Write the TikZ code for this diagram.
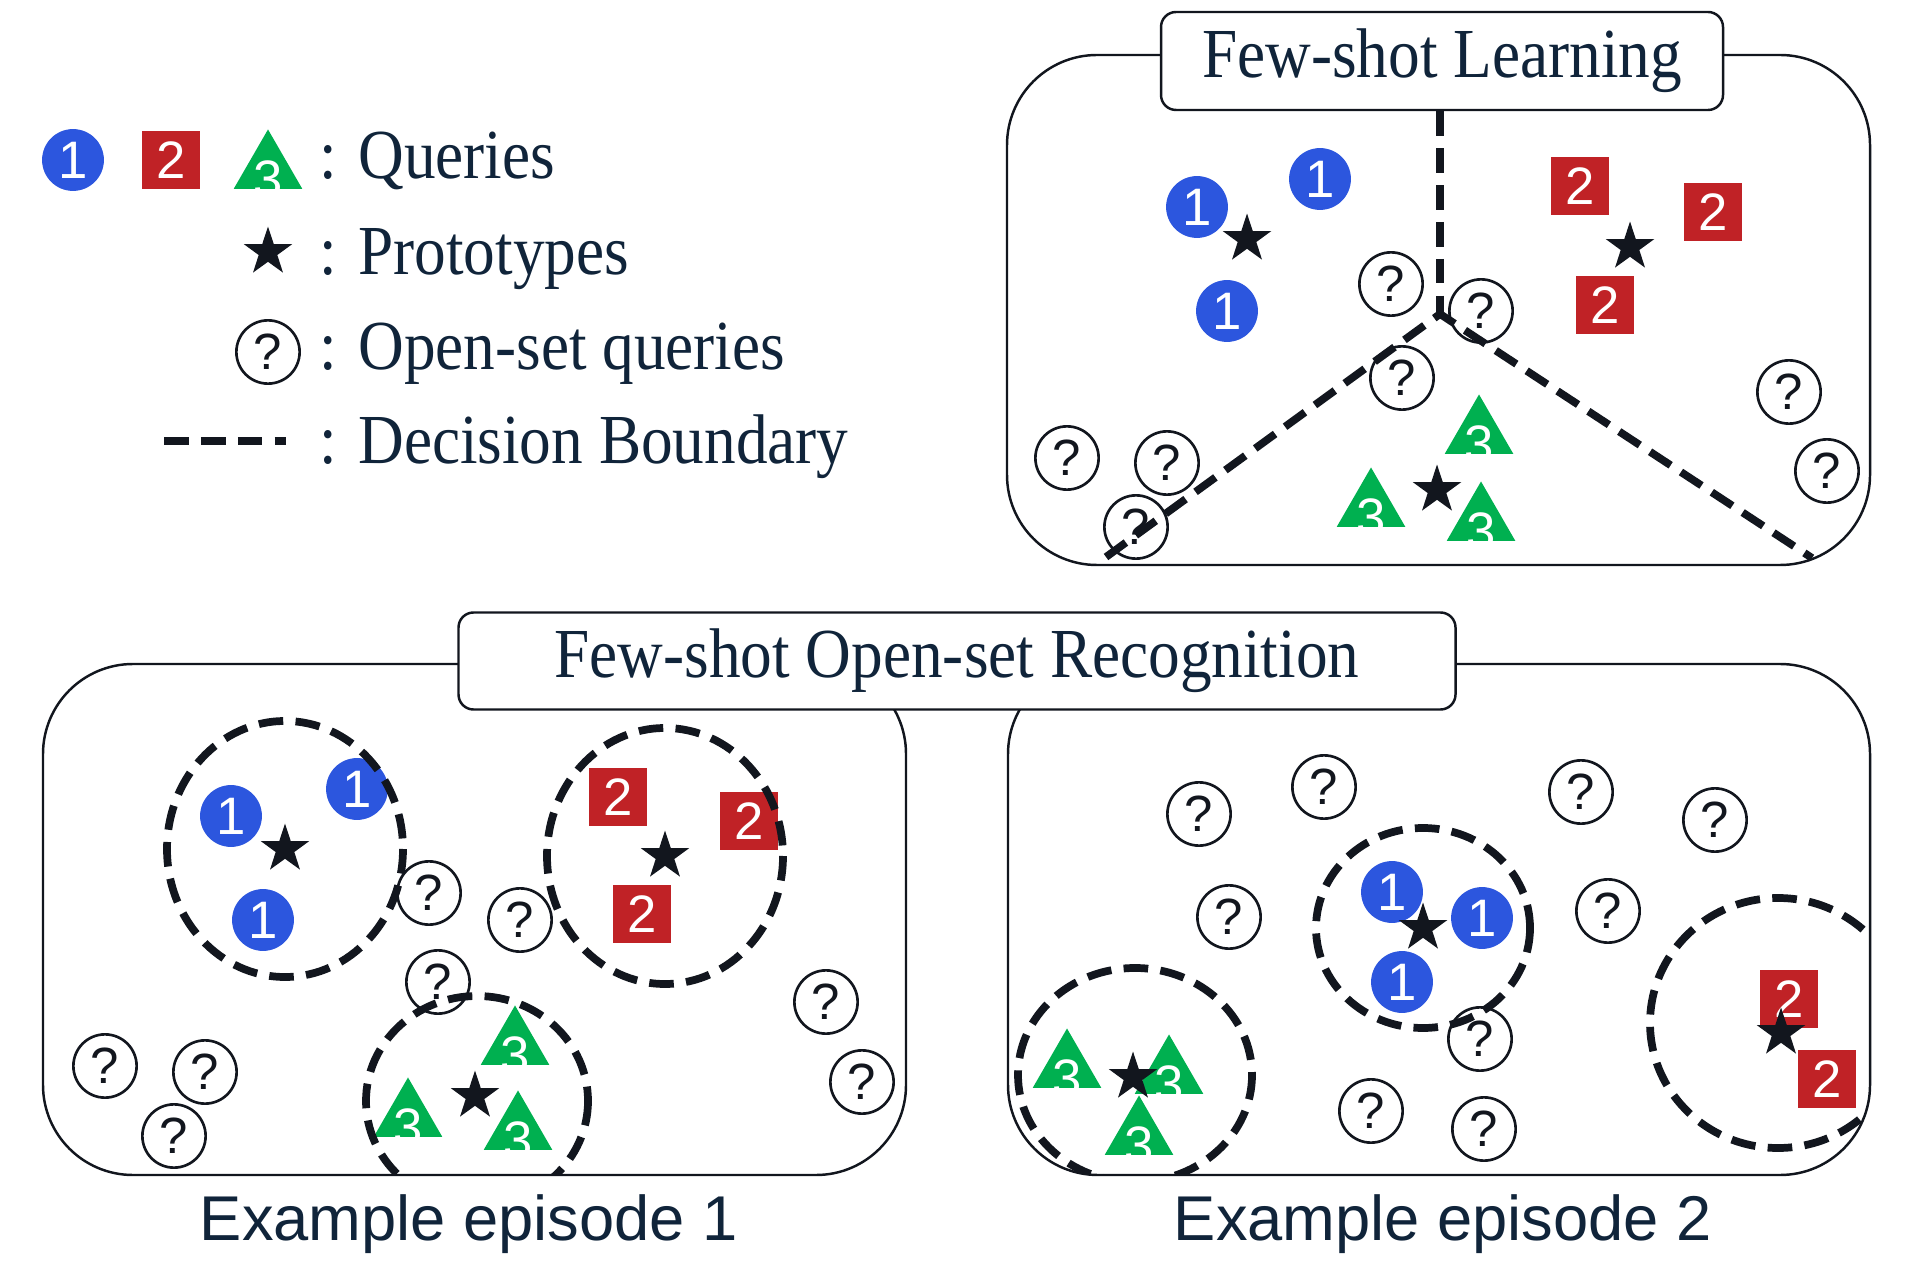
\documentclass[tikz,border=0pt]{standalone}
\usepackage{fontspec}
\setmainfont{Liberation Serif}[FakeStretch=0.9]
\setsansfont{Liberation Sans}
\usetikzlibrary{shapes.geometric,positioning}
\definecolor{qblue}{HTML}{2C56DE}
\definecolor{qred}{HTML}{C02226}
\definecolor{qgreen}{HTML}{00B050}
\definecolor{ink}{HTML}{10243A}
\definecolor{protoc}{HTML}{12161E}

\begin{document}
\begin{tikzpicture}[x=0.1mm,y=-0.1mm,
  digit/.style={font=\sffamily\fontsize{15}{15}\selectfont,text=white},
  cls1/.style={circle,fill=qblue,minimum size=17.6pt,inner sep=0pt,digit},
  cls2/.style={rectangle,fill=qred,minimum size=16.5pt,inner sep=0pt,digit},
  cls3/.style={regular polygon,regular polygon sides=3,fill=qgreen,minimum size=22.5pt,inner sep=0pt},
  unk/.style={circle,draw=protoc,line width=0.75pt,minimum size=18pt,inner sep=0pt,
    font=\sffamily\fontsize{14.5}{15}\selectfont,text=protoc},
  proto/.style={star,star points=5,star point ratio=2.6,fill=protoc,minimum size=14.5pt,inner sep=0pt},
  bound/.style={line width=2.2pt,dash pattern=on 7pt off 3.5pt,draw=protoc},
  panel/.style={draw=protoc,line width=0.7pt,rounded corners=9mm},
  title/.style={draw=protoc,line width=0.7pt,fill=white,rounded corners=1.5mm,
    font=\fontsize{20}{24}\selectfont,text=ink,inner sep=0pt},
  legtext/.style={anchor=base west,font=\fontsize{20}{24}\selectfont,text=ink,inner sep=0pt},
  episode/.style={font=\sffamily\fontsize{18}{22}\selectfont,text=ink}]
  \useasboundingbox (0,0) rectangle (1910,1270);

  % legend
  \node[cls1] (lg1) at (73,160) {1};
  \node[cls2] (lg2) at (171,160) {2};
  \node[cls3,label={[digit,yshift=-3pt]center:3}] (lg3) at (268,169) {};
  \node[proto] (lgp) at (268,252) {};
  \node[unk] (lgu) at (268,352) {?};
  \coordinate (lgd0) at (164,441);
  \coordinate (lgd1) at (286,441);
  \draw[bound] (lgd0) -- (lgd1);
  \node[legtext] (ltq) at (319,179) {: Queries};
  \node[legtext] (ltp) at (319,275) {: Prototypes};
  \node[legtext] (ltu) at (319,370) {: Open-set queries};
  \node[legtext] (ltd) at (319,464) {: Decision Boundary};

  % few-shot learning panel
  \draw[panel] (1007,55) rectangle (1870,565);
  \node[title,minimum width=56.2mm,minimum height=9.8mm] (fslT) at (1442,61) {Few-shot Learning};
  \foreach \pos [count=\k] in {(1391,284),(1481,311),(1402,378),(1067,458),(1167,463),(1136,527),(1789,392),(1827,471)}
    \node[unk] (tu\k) at \pos {?};
  \node[cls1] (t1a) at (1197,207) {1};
  \node[cls1] (t1b) at (1320,179) {1};
  \node[cls1] (t1c) at (1227,311) {1};
  \node[cls2] (t2a) at (1580,186) {2};
  \node[cls2] (t2b) at (1713,212) {2};
  \node[cls2] (t2c) at (1605,305) {2};
  \foreach \n/\pos in {a/{(1479,434)},b/{(1371,507)},c/{(1481,521)}}
    \node[cls3,label={[digit,yshift=-3pt]center:3}] (t3\n) at \pos {};
  \node[proto] (tp1) at (1247,239) {};
  \node[proto] (tp2) at (1630,247) {};
  \node[proto] (tp3) at (1437,490) {};
  \coordinate (apex) at (1440,314);
  \coordinate (bl) at (1106,557);
  \coordinate (br) at (1812,558);
  \draw[bound] (fslT.south -| apex) -- (apex);
  \draw[bound] (bl) -- (apex) -- (br);

  % few-shot open-set recognition panels
  \draw[panel] (43,664) rectangle (906,1175);
  \draw[panel] (1008,664) rectangle (1870,1175);
  \node[title,minimum width=99.7mm,minimum height=9.7mm] (fsorT) at (957,661) {Few-shot Open-set Recognition};

  % episode 1
  \foreach \pos [count=\k] in {(429,893),(520,920),(438,982),(826,1002),(862,1082),(105,1066),(205,1072),(174,1136)}
    \node[unk] (au\k) at \pos {?};
  \node[cls1] (a1a) at (231,816) {1};
  \node[cls1] (a1b) at (357,789) {1};
  \node[cls1] (a1c) at (263,920) {1};
  \node[cls2] (a2a) at (618,797) {2};
  \node[cls2] (a2b) at (749,821) {2};
  \node[cls2] (a2c) at (642,914) {2};
  \foreach \n/\pos in {a/{(515,1045)},b/{(408,1117)},c/{(518,1130)}}
    \node[cls3,label={[digit,yshift=-3pt]center:3}] (a3\n) at \pos {};
  \node[proto] (ap1) at (285,849) {};
  \node[proto] (ap2) at (665,856) {};
  \node[proto] (ap3) at (475,1096) {};
  \begin{scope}
    \clip[rounded corners=9mm] (43,664) rectangle (906,1175);
    \draw[bound] (ap1) ellipse [x radius=118,y radius=128];
    \draw[bound] (ap2) ellipse [x radius=118,y radius=128];
    \draw[bound] (477,1101) ellipse [x radius=111,y radius=105];
  \end{scope}
  \node[episode] (ep1) at (469,1224) {Example episode 1};

  % episode 2
  \foreach \pos [count=\k] in {(1199,814),(1324,787),(1581,792),(1715,820),(1229,917),(1608,911),(1480,1039),(1371,1111),(1484,1129)}
    \node[unk] (bu\k) at \pos {?};
  \node[cls1] (b1a) at (1392,892) {1};
  \node[cls1] (b1b) at (1482,918) {1};
  \node[cls1] (b1c) at (1402,982) {1};
  \node[cls2] (b2a) at (1789,999) {2};
  \node[cls2] (b2b) at (1827,1079) {2};
  \foreach \n/\pos in {a/{(1067,1068)},b/{(1169,1074)},c/{(1139,1135)}}
    \node[cls3,label={[digit,yshift=-3pt]center:3}] (b3\n) at \pos {};
  \node[proto] (bp1) at (1423,928) {};
  \node[proto] (bp2) at (1781,1033) {};
  \node[proto] (bp3) at (1133,1077) {};
  \begin{scope}
    \clip[rounded corners=9mm] (1008,664) rectangle (1870,1175);
    \draw[bound] (1423,928) ellipse [x radius=107,y radius=100];
    \draw[bound] (1135,1075) ellipse [x radius=117,y radius=107];
    \draw[bound] (1778,1023) ellipse [x radius=128,y radius=125];
  \end{scope}
  \node[episode] (ep2) at (1443,1224) {Example episode 2};
\end{tikzpicture}
\end{document}
